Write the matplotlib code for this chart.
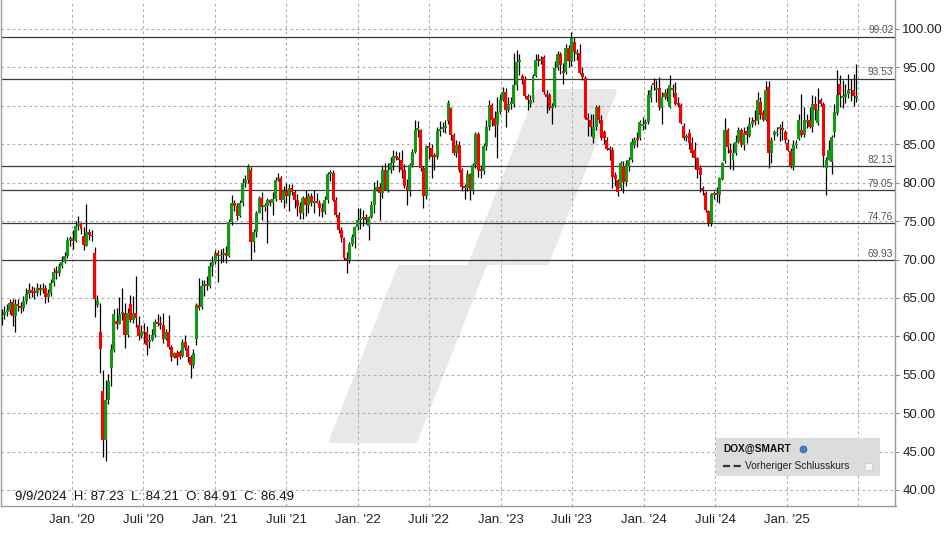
import numpy as np
import pandas as pd
import matplotlib
matplotlib.use("Agg")
import matplotlib.pyplot as plt
import matplotlib.dates as mdates
import matplotlib.transforms as mtrans
from matplotlib.patches import Polygon, Rectangle
from matplotlib.lines import Line2D

plt.rcParams['font.family'] = ['Liberation Sans', 'DejaVu Sans']

# weekly candles, first week 2019-07-05 (friday), one per week
start = "2019-07-05"

o = [
    62.5, 62.8, 63.2, 63.3, 64.5, 62.6, 64.2, 64.0, 63.7, 64.6,
    65.5, 66.0, 65.7, 65.6, 66.3, 66.0, 66.3, 65.1, 65.6, 66.9,
    68.4, 68.2, 69.2, 69.7, 70.4, 72.5, 72.5, 72.4, 74.3, 74.8,
    73.0, 71.8, 73.6, 73.2, 70.9, 64.1, 60.6, 52.9, 46.5, 51.7,
    55.9, 58.2, 62.0, 61.6, 62.9, 63.0, 60.2, 64.2, 62.1, 63.0,
    61.5, 60.0, 60.6, 60.5, 59.2, 59.5, 60.2, 61.9, 61.6, 61.5,
    59.6, 60.5, 58.6, 57.3, 57.8, 57.9, 57.4, 59.3, 58.5, 57.3,
    56.3, 59.6, 64.1, 63.8, 66.5, 66.8, 66.6, 69.2, 69.7, 70.9,
    70.4, 70.6, 70.8, 70.5, 74.9, 77.4, 76.9, 75.7, 77.3, 79.9,
    80.4, 81.6, 72.3, 73.6, 76.1, 78.0, 76.8, 76.9, 77.8, 77.4,
    77.9, 80.4, 80.6, 77.8, 78.9, 78.3, 79.3, 78.8, 77.7, 77.0,
    76.1, 78.0, 77.1, 78.2, 77.3, 77.5, 77.4, 76.7, 76.2, 77.7,
    81.1, 81.3, 77.8, 75.8, 73.8, 72.8, 70.2, 70.0, 72.0, 72.9,
    74.2, 75.1, 75.3, 75.5, 74.3, 75.5, 77.1, 79.0, 79.5, 78.7,
    81.7, 79.1, 81.6, 82.5, 83.5, 83.2, 82.9, 81.6, 79.6, 79.0,
    82.3, 84.0, 86.9, 86.9, 81.9, 78.3, 84.8, 84.5, 83.4, 83.3,
    86.7, 87.0, 87.1, 88.0, 89.7, 86.2, 83.8, 84.9, 81.7, 79.4,
    79.3, 81.1, 79.0, 82.3, 86.3, 81.6, 81.5, 84.8, 87.3, 90.1,
    88.4, 87.5, 89.2, 90.8, 91.8, 89.5, 90.2, 90.2, 92.7, 95.7,
    93.9, 93.5, 91.3, 90.3, 90.8, 93.9, 96.0, 95.8, 96.4, 91.6,
    91.4, 89.7, 90.0, 94.9, 96.8, 94.4, 94.4, 97.5, 95.9, 98.3,
    96.7, 96.9, 94.3, 93.6, 88.4, 88.2, 85.8, 87.2, 89.8, 88.2,
    86.6, 85.6, 84.5, 84.3, 81.0, 80.3, 79.3, 82.2, 80.1, 82.1,
    82.9, 84.9, 85.8, 85.8, 87.4, 87.6, 87.9, 91.0, 92.9, 92.1,
    92.3, 89.7, 91.2, 91.7, 89.8, 92.3, 91.7, 90.3, 90.1, 87.4,
    85.8, 86.4, 85.1, 84.2, 83.2, 81.9, 79.3, 78.7, 76.3, 74.7,
    78.4, 78.7, 78.4, 80.5, 82.8, 86.9, 84.3, 82.9, 83.9, 85.3,
    86.8, 84.91, 86.7, 86.1, 87.7, 88.2, 88.0, 90.5, 89.1, 88.2,
    92.5, 83.9, 86.2, 86.4, 87.0, 87.0, 86.6, 85.1, 84.1, 82.0,
    84.9, 85.7, 86.8, 86.2, 87.9, 88.1, 87.3, 90.3, 87.8, 90.8,
    90.3, 81.9, 83.0, 82.7, 86.6, 89.1, 92.9, 91.0, 91.1, 91.6,
    92.2, 92.1, 91.0]

h = [
    63.6, 64.0, 64.2, 64.9, 64.8, 64.8, 64.9, 64.5, 65.3, 66.3,
    66.9, 66.6, 66.4, 67.0, 66.8, 67.0, 66.7, 66.1, 67.4, 68.9,
    69.1, 69.6, 70.4, 71.0, 72.9, 73.1, 73.8, 75.0, 75.6, 74.9,
    74.2, 77.2, 74.0, 73.8, 71.6, 65.4, 64.3, 55.6, 54.3, 55.1,
    59.0, 63.6, 63.7, 65.1, 66.3, 64.3, 63.7, 65.4, 65.2, 67.8,
    62.6, 61.5, 61.7, 61.3, 60.3, 60.9, 62.3, 62.9, 62.6, 63.1,
    61.0, 62.8, 58.9, 58.0, 58.2, 58.2, 59.6, 60.2, 58.9, 57.6,
    58.4, 64.3, 67.6, 67.3, 67.3, 67.8, 69.7, 70.4, 71.3, 71.2,
    71.4, 71.5, 71.8, 75.3, 78.4, 77.8, 77.3, 77.8, 80.6, 81.0,
    82.4, 82.0, 74.0, 76.3, 78.2, 78.8, 77.4, 78.0, 77.9, 78.8,
    80.7, 81.3, 80.9, 79.6, 79.9, 79.8, 79.8, 79.1, 78.5, 77.5,
    78.3, 79.0, 78.6, 78.7, 79.0, 78.6, 77.8, 77.3, 78.2, 81.4,
    81.6, 81.6, 78.1, 76.2, 74.2, 72.9, 71.0, 72.3, 73.3, 74.4,
    76.7, 76.7, 76.5, 75.9, 75.6, 77.6, 80.1, 80.4, 79.9, 82.3,
    82.5, 82.6, 83.4, 84.3, 84.1, 84.0, 84.2, 82.4, 80.5, 82.5,
    84.4, 88.2, 88.0, 87.0, 82.2, 84.9, 85.3, 85.0, 83.8, 87.3,
    88.0, 87.9, 88.1, 90.8, 89.9, 86.5, 85.6, 85.4, 81.9, 79.8,
    81.7, 81.3, 82.6, 86.6, 86.6, 82.3, 85.2, 88.2, 90.8, 90.4,
    89.3, 91.2, 91.6, 92.5, 92.3, 91.1, 91.2, 96.9, 97.3, 96.7,
    94.1, 93.9, 91.6, 91.4, 94.2, 96.8, 96.8, 96.5, 96.6, 92.0,
    91.7, 90.4, 95.9, 97.1, 97.0, 95.6, 98.1, 97.9, 99.65, 98.9,
    97.4, 98.1, 95.0, 93.9, 89.1, 88.9, 88.9, 90.1, 90.1, 88.8,
    86.8, 86.0, 84.8, 84.6, 81.4, 80.5, 82.8, 82.8, 83.0, 83.3,
    85.8, 86.0, 86.6, 88.1, 88.6, 88.3, 92.0, 92.7, 93.6, 93.4,
    93.7, 91.8, 92.2, 92.3, 94.0, 92.9, 93.1, 91.2, 90.4, 87.8,
    86.3, 87.0, 85.9, 85.3, 83.4, 82.3, 79.6, 78.9, 76.5, 78.7,
    78.9, 79.5, 80.8, 82.7, 88.4, 87.1, 85.2, 85.1, 86.2, 87.3,
    87.1, 87.23, 87.4, 88.5, 88.5, 89.4, 91.8, 91.2, 89.4, 93.2,
    93.2, 85.9, 86.9, 87.2, 87.7, 88.0, 86.9, 85.7, 84.5, 85.6,
    85.6, 89.0, 91.5, 89.8, 88.9, 89.9, 91.4, 91.3, 92.3, 91.0,
    90.5, 83.4, 85.5, 86.2, 90.3, 94.7, 94.0, 93.4, 92.9, 94.2,
    93.5, 94.2, 95.4]

l = [
    61.5, 62.2, 62.6, 62.9, 61.3, 60.6, 63.3, 63.0, 63.3, 64.2,
    65.0, 65.1, 64.9, 65.3, 65.4, 65.6, 64.4, 64.5, 65.3, 66.6,
    67.4, 67.9, 68.9, 69.5, 70.2, 71.8, 71.4, 72.3, 73.8, 73.3,
    71.2, 71.7, 72.6, 72.4, 62.5, 63.8, 55.2, 44.3, 43.8, 51.2,
    53.6, 57.9, 61.0, 62.4, 62.1, 58.5, 59.9, 61.9, 61.8, 61.2,
    59.5, 59.8, 59.1, 57.6, 58.5, 59.4, 59.9, 61.3, 61.0, 59.1,
    59.5, 58.3, 56.8, 57.2, 56.3, 57.0, 57.3, 58.2, 56.6, 54.6,
    55.9, 58.9, 63.4, 63.5, 65.2, 66.0, 66.3, 67.8, 69.4, 67.1,
    69.6, 69.7, 69.5, 70.3, 74.5, 76.3, 75.1, 75.5, 77.0, 79.5,
    80.0, 69.9, 71.0, 72.9, 76.0, 75.1, 76.3, 72.2, 76.9, 75.8,
    77.6, 80.2, 77.5, 76.7, 77.4, 76.3, 78.4, 76.7, 75.6, 75.3,
    75.3, 75.6, 76.0, 77.0, 76.0, 77.3, 75.7, 75.5, 75.9, 77.4,
    80.2, 77.6, 75.5, 73.5, 72.3, 69.9, 68.2, 69.6, 71.8, 71.5,
    73.8, 74.0, 74.4, 74.6, 72.5, 75.4, 76.0, 78.9, 75.1, 78.0,
    79.0, 78.8, 81.2, 81.7, 83.0, 81.4, 80.6, 79.3, 77.1, 78.2,
    82.0, 83.9, 85.9, 81.5, 76.7, 77.9, 83.1, 80.6, 81.7, 83.1,
    86.1, 86.6, 86.5, 87.6, 85.6, 83.6, 83.4, 81.4, 78.9, 77.9,
    78.9, 77.7, 78.5, 81.9, 80.8, 80.6, 81.1, 84.2, 86.9, 87.4,
    86.0, 83.2, 89.0, 90.6, 87.3, 89.2, 89.6, 89.9, 92.0, 94.0,
    92.9, 91.0, 89.5, 89.9, 90.5, 93.8, 95.2, 95.4, 91.5, 89.1,
    89.4, 87.7, 89.8, 94.6, 94.1, 92.8, 94.2, 95.0, 95.2, 95.9,
    96.0, 94.1, 93.3, 88.3, 86.1, 86.1, 85.2, 86.9, 87.8, 85.6,
    85.0, 84.2, 83.0, 79.3, 79.6, 78.2, 79.0, 78.6, 79.6, 81.5,
    82.7, 84.5, 84.7, 85.5, 86.8, 87.0, 87.7, 90.5, 92.1, 90.5,
    89.5, 87.6, 90.9, 90.6, 89.7, 91.2, 90.1, 89.9, 87.6, 85.6,
    85.4, 84.4, 83.4, 81.8, 80.6, 78.8, 78.4, 76.2, 74.3, 74.3,
    77.9, 77.5, 77.3, 80.4, 82.6, 83.9, 81.8, 81.6, 83.6, 85.1,
    84.6, 84.21, 85.2, 85.9, 87.3, 87.5, 87.7, 88.3, 88.0, 88.0,
    81.9, 82.5, 85.6, 86.1, 85.4, 85.6, 85.1, 84.1, 81.9, 81.7,
    84.5, 85.5, 85.9, 85.9, 87.1, 87.1, 86.6, 88.2, 87.5, 90.0,
    82.1, 78.4, 82.9, 81.1, 86.0, 88.8, 89.9, 89.7, 90.4, 91.0,
    90.6, 90.0, 90.5]

c = [
    62.8, 63.2, 63.3, 64.3, 62.6, 64.2, 64.0, 63.7, 64.6, 65.5,
    66.0, 65.7, 65.6, 66.3, 66.0, 66.3, 65.1, 65.6, 66.9, 68.4,
    68.2, 69.2, 69.7, 70.4, 72.5, 72.5, 72.4, 74.3, 74.8, 74.0,
    71.9, 73.6, 73.2, 73.0, 64.9, 64.6, 58.3, 46.5, 51.7, 54.2,
    58.3, 62.9, 61.6, 62.9, 63.0, 60.2, 63.1, 62.1, 63.0, 62.4,
    60.0, 60.5, 60.5, 58.9, 59.5, 60.2, 61.9, 61.6, 61.5, 59.6,
    60.5, 58.6, 57.3, 57.8, 57.2, 57.3, 59.3, 58.5, 57.3, 56.3,
    57.8, 64.1, 63.7, 66.5, 66.8, 66.6, 69.2, 69.7, 70.9, 70.4,
    70.6, 70.7, 70.5, 74.9, 77.4, 76.9, 75.7, 77.3, 79.9, 80.4,
    82.1, 72.3, 73.6, 76.1, 78.0, 76.8, 76.9, 77.8, 77.4, 77.9,
    80.4, 80.6, 77.8, 78.9, 78.3, 79.3, 78.8, 77.7, 77.0, 76.1,
    78.0, 77.1, 78.2, 77.3, 77.5, 77.4, 76.7, 76.2, 77.7, 81.1,
    81.3, 77.8, 75.8, 73.8, 72.8, 70.2, 70.0, 72.0, 72.9, 74.2,
    75.1, 75.3, 75.5, 75.1, 75.5, 77.1, 79.0, 79.5, 78.7, 81.7,
    79.1, 81.6, 82.5, 83.5, 83.2, 82.9, 81.6, 79.6, 79.0, 82.3,
    84.0, 86.9, 86.9, 81.9, 78.3, 84.8, 84.5, 83.4, 83.3, 86.7,
    87.0, 87.1, 87.3, 90.4, 86.2, 83.8, 84.9, 81.7, 79.4, 79.3,
    81.1, 79.0, 82.3, 86.3, 81.6, 81.5, 84.8, 87.3, 90.1, 88.2,
    87.4, 89.2, 90.8, 91.8, 89.5, 90.2, 90.2, 92.7, 95.7, 95.7,
    93.5, 91.3, 90.8, 90.8, 93.9, 96.0, 95.8, 96.1, 91.8, 91.2,
    89.7, 90.0, 94.9, 96.8, 95.3, 94.3, 97.5, 95.9, 98.8, 97.0,
    96.9, 94.3, 93.7, 88.4, 88.1, 87.2, 87.2, 89.8, 88.2, 85.8,
    85.8, 84.4, 84.3, 80.8, 80.5, 78.8, 82.5, 80.1, 82.4, 82.9,
    85.3, 85.5, 85.5, 87.9, 87.6, 87.8, 91.4, 92.1, 92.7, 92.3,
    89.9, 91.2, 91.7, 91.2, 92.7, 92.0, 90.3, 90.1, 87.8, 85.8,
    86.0, 85.1, 83.9, 83.2, 81.7, 81.0, 79.0, 76.4, 74.7, 78.4,
    78.6, 78.4, 80.6, 82.5, 86.9, 84.7, 83.9, 83.9, 85.3, 86.9,
    84.9, 86.49, 86.2, 87.7, 88.0, 87.9, 90.8, 88.8, 88.2, 92.1,
    83.9, 85.6, 86.6, 86.6, 87.2, 86.8, 85.6, 84.2, 82.2, 84.9,
    85.1, 88.2, 86.2, 88.2, 88.1, 87.3, 90.3, 89.5, 89.5, 90.3,
    83.5, 83.0, 84.2, 85.9, 89.2, 91.4, 91.4, 91.2, 91.6, 92.1,
    92.0, 91.3, 91.3]

levels = [99.02, 93.53, 82.13, 79.05, 74.76, 69.93]

tick_dates = ["2020-01-01", "2020-07-01", "2021-01-01", "2021-07-01", "2022-01-01",
              "2022-07-01", "2023-01-01", "2023-07-01", "2024-01-01", "2024-07-01",
              "2025-01-01", "2025-07-01"]
tick_labels = ["Jan. '20", "Juli '20", "Jan. '21", "Juli '21", "Jan. '22", "Juli '22",
               "Jan. '23", "Juli '23", "Jan. '24", "Juli '24", "Jan. '25", ""]

info = "9/9/2024  H: 87.23  L: 84.21  O: 84.91  C: 86.49"

W, H = 948, 534
GREEN = "#139a13"
RED = "#ff0000"

o = np.array(o); h = np.array(h); l = np.array(l); c = np.array(c)
h = np.maximum(h, np.maximum(o, c))
l = np.minimum(l, np.minimum(o, c))
x = mdates.date2num(pd.date_range(start, periods=len(c), freq="7D"))

fig = plt.figure(figsize=(W / 100, H / 100), dpi=100)
ax = fig.add_axes([0.5 / W, 28 / H, 895 / W, 506 / H])

def px(xp, yp):
    # pixel position (from top-left) -> figure fraction
    return (xp / W, 1 - yp / H)

# x scale: 'Jan. 20' at 72 px, 'Jan. 25' at 787 px
ref = mdates.date2num(pd.Timestamp("2020-01-01"))
ppd = 715 / 1827
ax.set_xlim(ref - 71.5 / ppd, ref + 823.5 / ppd)
# y scale: 100 at 29 px, 40 at 490 px
ppu = 461 / 60
ax.set_ylim(100 - 477 / ppu, 100 + 29 / ppu)

# watermark
wm = [(538.7, 91.5), (614.3, 91.5), (546.8, 262.5), (485.3, 262.5),
      (415.0, 440.5), (331.4, 440.5), (399.7, 267.5), (469.2, 267.5)]
ax.add_patch(Polygon([px(*p) for p in wm], closed=True, transform=fig.transFigure,
                     facecolor="#e8e8e8", edgecolor="#e8e8e8", lw=3.6,
                     joinstyle="round", zorder=0.3))

# legend box
bx0, by0 = px(716, 476)
ax.add_patch(Rectangle((bx0, by0), 164 / W, 38 / H, transform=fig.transFigure,
                       facecolor="#dcdcdc", edgecolor="none", zorder=0.6))

ax.grid(True, color="#b0b0b0", linestyle=(0, (2.5, 2.5)), linewidth=0.8)
ax.set_axisbelow(True)
for gl in ax.get_xgridlines() + ax.get_ygridlines():
    gl.set_zorder(1)

# support / resistance lines
lt = mtrans.blended_transform_factory(ax.transAxes, ax.transData)
for v in levels:
    ax.axhline(v, color="#3a3a3a", lw=0.9, zorder=2)
    ax.text(0.9975, v + 0.18, f"{v:.2f}", transform=lt, ha="right", va="bottom",
            fontsize=7.3, color="#555555", zorder=2)

# candles
cols = [GREEN if cc >= oo else RED for oo, cc in zip(o, c)]
ax.vlines(x, l, h, color="black", lw=0.9, zorder=3)
body = np.maximum(np.abs(c - o), 0.25)
ax.bar(x, body, bottom=np.minimum(o, c), width=7.6, color=cols, linewidth=0, zorder=4)

# axes styling
for s in ["left", "right", "bottom"]:
    ax.spines[s].set_color("#9a9a9a")
    ax.spines[s].set_linewidth(1.0)
ax.spines["top"].set_visible(False)

ax.yaxis.tick_right()
ax.set_yticks(np.arange(40, 101, 5))
ax.set_yticklabels([f"{v:.2f}" for v in np.arange(40, 101, 5)])
ax.tick_params(axis="y", direction="out", length=3, width=0.8, color="#888888",
               labelsize=9.5, labelcolor="#222222", pad=2)
ax.set_xticks(mdates.date2num(pd.to_datetime(tick_dates)))
ax.set_xticklabels(tick_labels)
ax.tick_params(axis="x", length=0, labelsize=9.5, labelcolor="#222222", pad=6)

# hovered candle info
fig.text(*px(15, 497), info, fontsize=9.5, color="#111111", va="center", ha="left")

# legend contents
fig.text(*px(723, 449), "DOX@SMART", fontsize=7.3, fontweight="bold", color="#111111",
         va="center", ha="left")
gx, gy = px(803, 449)
fig.lines.append(Line2D([gx], [gy], transform=fig.transFigure, marker="o",
                        markersize=5, markerfacecolor="#4a80bb",
                        markeredgecolor="#2a5a8a", markeredgewidth=0.5, linestyle="none"))
fig.lines.append(Line2D([723 / W, 741 / W], [1 - 466 / H, 1 - 466 / H],
                        transform=fig.transFigure, color="#333333", lw=1.6,
                        linestyle=(0, (3.2, 1.6))))
fig.text(*px(745, 466), "Vorheriger Schlusskurs", fontsize=7.3, color="#222222",
         va="center", ha="left")
sx, sy = px(865, 470)
fig.patches.append(Rectangle((sx, sy), 7 / W, 7 / H, transform=fig.transFigure,
                             facecolor="#f6f6f8", edgecolor="#c8c8d0", lw=0.5))

fig.savefig("out.png", dpi=100)
